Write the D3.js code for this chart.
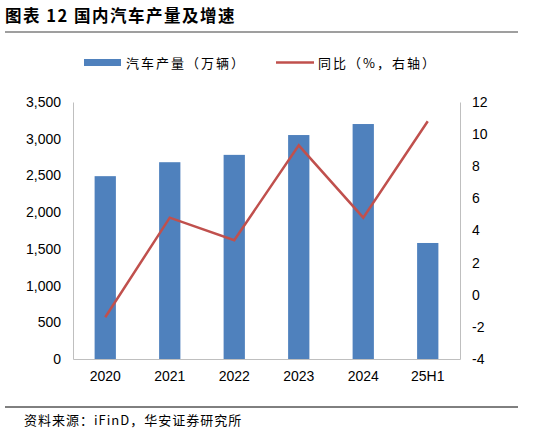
<!DOCTYPE html>
<html><head><meta charset="utf-8">
<script src="https://cdn.jsdelivr.net/npm/d3@7"></script>
<style>body{margin:0;background:#fff}text{font-family:"Liberation Sans",Arial,sans-serif}</style>
</head><body><svg id="c" width="541" height="438"></svg>
<script>
const categories = ["2020", "2021", "2022", "2023", "2024", "25H1"];
const output = [2490, 2680, 2780, 3050, 3200, 1580];
const yoy = [-1.4, 4.8, 3.4, 9.3, 4.8, 10.8];
const leftTicks = [0, 500, 1000, 1500, 2000, 2500, 3000, 3500];
const rightTicks = [-4, -2, 0, 2, 4, 6, 8, 10, 12];
const cjk = '"Noto Sans CJK SC",sans-serif';

const svg = d3.select("#c");
const x = d3.scaleBand().domain(categories).range([73, 460]).paddingInner(0.67).paddingOuter(0.335);
const yL = d3.scaleLinear().domain([0, 3500]).range([359, 102]);
const yR = d3.scaleLinear().domain([-4, 12]).range([359, 102]);

// title
svg.append("text").attr("x", 5).attr("y", 22).attr("font-size", 16.5).attr("font-weight", "bold")
  .attr("letter-spacing", 1.5).style("font-family", cjk).text("图表 12  国内汽车产量及增速");
svg.append("line").attr("x1", 5).attr("x2", 518).attr("y1", 32).attr("y2", 32).attr("stroke", "#7f7f7f").attr("stroke-width", 1.5);

// legend
svg.append("rect").attr("x", 84).attr("y", 59).attr("width", 37).attr("height", 7).attr("fill", "#4f81bd");
svg.append("text").attr("x", 126).attr("y", 68).attr("font-size", 13).style("font-family", cjk).attr("letter-spacing", 2).text("汽车产量（万辆）");
svg.append("line").attr("x1", 276).attr("x2", 314).attr("y1", 62.5).attr("y2", 62.5).attr("stroke", "#c0504d").attr("stroke-width", 2.5);
svg.append("text").attr("x", 318).attr("y", 68).attr("font-size", 13).style("font-family", cjk).attr("letter-spacing", 2).text("同比（%，右轴）");

// bars
svg.selectAll("rect.bar").data(output).join("rect").attr("class", "bar")
  .attr("x", (d, i) => x(categories[i])).attr("width", x.bandwidth())
  .attr("y", d => yL(d)).attr("height", d => 359 - yL(d)).attr("fill", "#4f81bd");

// axes
const axL = svg.append("g").attr("transform", "translate(73,0)")
  .call(d3.axisLeft(yL).tickValues(leftTicks).tickSize(0).tickPadding(12).tickFormat(d3.format(",")));
const axR = svg.append("g").attr("transform", "translate(460,0)")
  .call(d3.axisRight(yR).tickValues(rightTicks).tickSize(0).tickPadding(12).tickFormat(d => d < 0 ? "-" + (-d) : d));
const axB = svg.append("g").attr("transform", "translate(0,359)")
  .call(d3.axisBottom(x).tickSize(0).tickPadding(12));
[axL, axR, axB].forEach(g => {
  g.select(".domain").attr("stroke", "#bfbfbf");
  g.selectAll("text").attr("font-size", 14).attr("fill", "#000").style("font-family", '"Liberation Sans",Arial,sans-serif');
});

// line
svg.append("path").datum(yoy)
  .attr("d", d3.line().x((d, i) => x(categories[i]) + x.bandwidth() / 2).y(d => yR(d)))
  .attr("fill", "none").attr("stroke", "#c0504d").attr("stroke-width", 2.5);

// footer
svg.append("line").attr("x1", 5).attr("x2", 518).attr("y1", 407).attr("y2", 407).attr("stroke", "#000").attr("stroke-width", 1);
svg.append("text").attr("x", 24).attr("y", 425).attr("font-size", 13).attr("letter-spacing", 1).style("font-family", cjk).text("资料来源：iFinD，华安证券研究所");
</script></body></html>
